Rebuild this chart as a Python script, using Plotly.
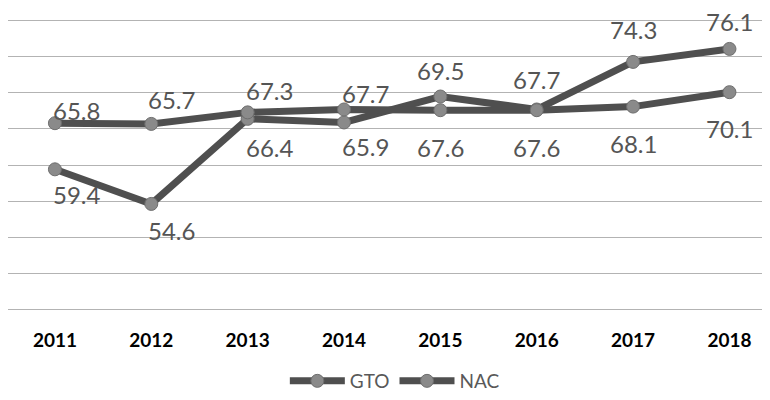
import plotly.graph_objects as go

years = [2011, 2012, 2013, 2014, 2015, 2016, 2017, 2018]
gto = [59.4, 54.6, 66.4, 65.9, 69.5, 67.7, 74.3, 76.1]
nac = [65.8, 65.7, 67.3, 67.7, 67.6, 67.6, 68.1, 70.1]

# label offsets (style only, pixels)
gto_dy = [-25, -27, -29, -24, 26, 30, 32, 27]
nac_dy = [13, 24, 22, 16, -37, -37, -37, -36]
dx = [22, 20, 22, 21, 0, 0, 0, 0]

line_col = "#4f4f4f"
mark_col = "#8a8a8a"
lbl_col = "#555555"
font_fam = "Lato, 'Open Sans', sans-serif"

fig = go.Figure()
for name, vals in (("GTO", gto), ("NAC", nac)):
    fig.add_trace(go.Scatter(
        x=years, y=vals, name=name, mode="lines+markers",
        line=dict(color=line_col, width=7),
        marker=dict(size=13, color=mark_col, line=dict(color="#6e6e6e", width=1)),
    ))

ann = []
for vals, dys in ((gto, gto_dy), (nac, nac_dy)):
    for x, v, dy, ddx in zip(years, vals, dys, dx):
        ann.append(dict(x=x, y=v, xref="x", yref="y", text=f"{v:.1f}",
                        showarrow=False, yshift=dy, xshift=ddx,
                        xanchor="center", yanchor="middle",
                        font=dict(family=font_fam, size=24, color=lbl_col)))

fig.update_layout(
    width=762, height=392,
    margin=dict(l=0, r=2, t=11.2, b=89.2),
    paper_bgcolor="white", plot_bgcolor="white",
    annotations=ann,
    showlegend=True,
    legend=dict(orientation="h", x=0.509, xanchor="center", y=-0.24, yanchor="middle",
                font=dict(family=font_fam, size=19, color="#595959"),
                itemwidth=55),
    xaxis=dict(range=[2010.513, 2018.4], tickvals=years, ticktext=[str(y) for y in years],
               showgrid=False, zeroline=False, showline=False,
               ticks="outside", ticklen=12, tickcolor="rgba(0,0,0,0)",
               tickfont=dict(family=font_fam, size=19, color="#000000", weight="bold")),
    yaxis=dict(range=[39.75, 80.25], dtick=5, tick0=40, showticklabels=False,
               showgrid=True, gridcolor="#b3b3b3", gridwidth=1,
               zeroline=False, showline=False),
)

fig.write_html("out.html")
